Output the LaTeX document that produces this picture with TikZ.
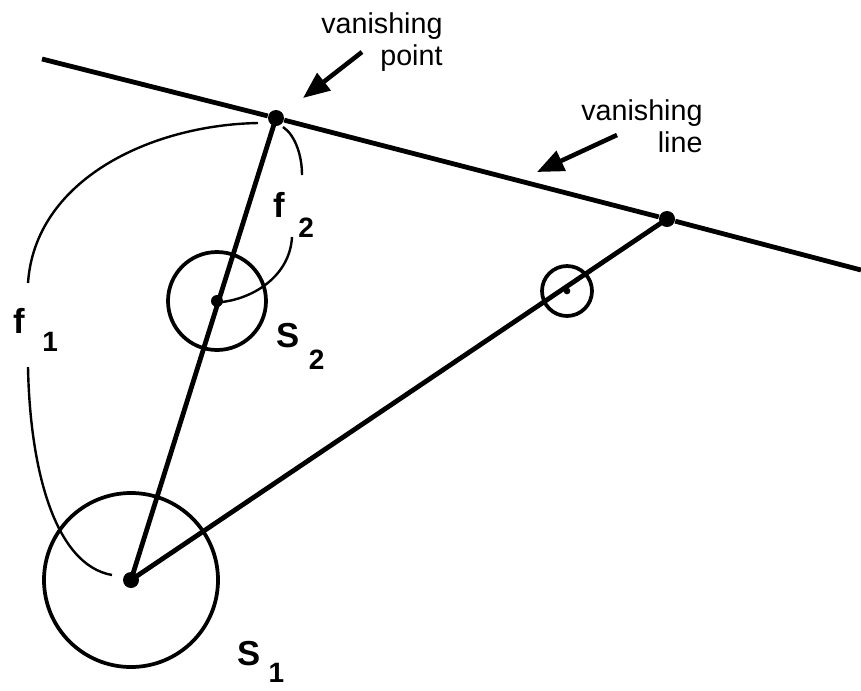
\documentclass[tikz,border=0pt]{standalone}
\usepackage{fontspec}
\setmainfont{Liberation Sans}
\usetikzlibrary{arrows.meta}

\tikzset{every picture/.style={line width=0.75pt}}
\tikzset{
  ray/.style={line width=3.6pt},
  ring/.style={line width=2.8pt},
  farc/.style={line width=1.8pt},
  pointer/.style={line width=3.4pt,-{Triangle[length=20pt,width=16pt]}},
  dot/.style={circle,fill=black,inner sep=0pt,minimum size=#1},
  dot/.default=12pt,
  caption/.style={inner sep=0pt,align=right,font=\fontsize{21.5}{24}\selectfont},
  label/.style={inner sep=0pt,anchor=base west,font=\fontsize{26}{26}\selectfont\bfseries}
}
% main letter, gap, drop, subscript
\newcommand{\sublbl}[4]{#1\hspace{#2}\raisebox{-#3}{\fontsize{21}{21}\selectfont\bfseries #4}}

\begin{document}
\begin{tikzpicture}[x=0.75pt,y=0.75pt,yscale=-1,xscale=1]
\useasboundingbox (0,0) rectangle (861,690);

%Points
\node[dot] (vp) at (276,118) {};
\node[dot] (vq) at (667,219) {};
\node[dot] (s1) at (131,580) {};
\node[dot=9pt] (s2) at (217,301) {};
\node[dot=5pt] (s3) at (567,291) {};
\coordinate (lineW) at (42,59);
\coordinate (lineE) at (861,270);

%Vanishing line
\draw[ray] (lineW) -- (vp) -- (vq) -- (lineE);

%Straight Lines
\draw[ray] (s1.center) -- (vp.center);
\draw[ray] (s1.center) -- (vq.center);

%Spheres
\draw[ring] (s1.center) circle (87);
\draw[ring] (s2.center) circle (49);
\draw[ring] (s3.center) circle (25);

%Focal arcs
\draw[farc] (258,123) .. controls (150,125) and (35,180) .. (28,283);
\draw[farc] (28,367) .. controls (30,470) and (55,565) .. (112,575);
\draw[farc] (283,127) .. controls (295,135) and (302,155) .. (302,175);
\draw[farc] (292,237) .. controls (290,275) and (255,298) .. (222,302);

% Text Node
\node[caption,anchor=north east] (vpText) at (443,12) {vanishing\\point};
\node[caption,anchor=north east] (vlText) at (703,99) {vanishing\\line};
\coordinate (vpTail) at (362,52);
\coordinate (vpTip) at (303,98);
\coordinate (vlTail) at (617,135);
\coordinate (vlTip) at (537,172);
\draw[pointer] (vpTail) -- (vpTip);
\draw[pointer] (vlTail) -- (vlTip);

\node[label] (f1) at (13,333) {\sublbl{f}{13pt}{14pt}{1}};
\node[label] (f2) at (273,217) {\sublbl{f}{10pt}{15pt}{2}};
\node[label] (S2) at (276,347) {\sublbl{S}{7pt}{17pt}{2}};
\node[label] (S1) at (237,665) {\sublbl{S}{6pt}{13pt}{1}};
\end{tikzpicture}
\end{document}
